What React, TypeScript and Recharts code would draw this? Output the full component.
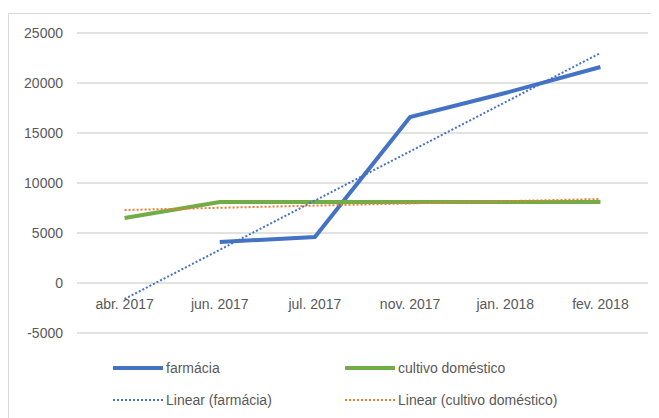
import React from "react";
import {
	LineChart,
	Line,
	XAxis,
	YAxis,
	CartesianGrid,
	Legend,
} from "recharts";

const categories = ["abr. 2017", "jun. 2017", "jul. 2017", "nov. 2017", "jan. 2018", "fev. 2018"];
const farmacia = [null, 4100, 4600, 16600, 19000, 21600];
const cultivo = [6500, 8100, 8100, 8100, 8100, 8100];
const linearFarmacia = [-1600, null, null, null, null, 23000];
const linearCultivo = [7300, null, null, null, null, 8400];
const yTicks = [-5000, 0, 5000, 10000, 15000, 20000, 25000];
const legendOrder = ["farmácia", "cultivo doméstico", "Linear (farmácia)", "Linear (cultivo doméstico)"];

const data = categories.map((name, i) => ({
	name,
	farmacia: farmacia[i],
	cultivo: cultivo[i],
	linFarm: linearFarmacia[i],
	linCult: linearCultivo[i],
}));

const FONT = "'Liberation Sans', Arial, sans-serif";
const TEXT = "#595959";

const CategoryTick = (props: any) => {
	const { x, y, payload } = props;
	return (
		<text x={x} y={y - 24} textAnchor="middle" fill={TEXT} fontSize={14} fontFamily={FONT}>
			{payload.value}
		</text>
	);
};

const LegendBox = (props: any) => {
	const items = [...(props.payload || [])].sort(
		(a: any, b: any) => legendOrder.indexOf(a.value) - legendOrder.indexOf(b.value)
	);
	return (
		<div
			style={{
				display: "grid",
				gridTemplateColumns: "232px 232px",
				paddingLeft: 104,
				fontFamily: FONT,
				fontSize: 14,
				color: TEXT,
			}}>
			{items.map((entry: any, index: number) => {
				const dotted = String(entry.value).startsWith("Linear");
				return (
					<div key={`leg-${index}`} style={{ display: "flex", alignItems: "center", height: 32 }}>
						<svg width={50} height={8} style={{ marginRight: 3 }}>
							<line
								x1={0}
								y1={4}
								x2={50}
								y2={4}
								stroke={entry.color}
								strokeWidth={dotted ? 2 : 4}
								strokeDasharray={dotted ? "2 2" : undefined}
							/>
						</svg>
						<span>{entry.value}</span>
					</div>
				);
			})}
		</div>
	);
};

export default function App() {
	return (
		<div style={{ paddingTop: 5 }}>
			<div style={{ width: 662, height: 420, border: "1px solid #d9d9d9", background: "#fff" }}>
				<LineChart
					width={650}
					height={404}
					data={data}
					margin={{ top: 19, right: 11, bottom: 84, left: 8 }}>
					<CartesianGrid vertical={false} stroke="#d9d9d9" strokeWidth={1.5} />
					<XAxis
						dataKey="name"
						scale="band"
						height={1}
						axisLine={false}
						tickLine={false}
						tickSize={0}
						tickMargin={0}
						interval={0}
						tick={<CategoryTick />}
					/>
					<YAxis
						width={60}
						domain={[-5000, 25000]}
						ticks={yTicks}
						axisLine={false}
						tickLine={false}
						tickSize={0}
						tickMargin={14}
						tick={{ fill: TEXT, fontSize: 14, fontFamily: FONT }}
					/>
					<Line
						dataKey="farmacia"
						name="farmácia"
						stroke="#4472C4"
						strokeWidth={4}
						dot={false}
						isAnimationActive={false}
					/>
					<Line
						dataKey="cultivo"
						name="cultivo doméstico"
						stroke="#70AD47"
						strokeWidth={4}
						dot={false}
						isAnimationActive={false}
					/>
					<Line
						dataKey="linFarm"
						name="Linear (farmácia)"
						stroke="#4472C4"
						strokeWidth={2}
						strokeDasharray="2 2"
						connectNulls
						dot={false}
						isAnimationActive={false}
					/>
					<Line
						dataKey="linCult"
						name="Linear (cultivo doméstico)"
						stroke="#ED7D31"
						strokeWidth={2}
						strokeDasharray="2 2"
						connectNulls
						dot={false}
						isAnimationActive={false}
					/>
					<Legend
						layout="horizontal"
						verticalAlign="middle"
						content={<LegendBox />}
						wrapperStyle={{ top: 338, left: 0, width: 650 }}
					/>
				</LineChart>
			</div>
		</div>
	);
}
